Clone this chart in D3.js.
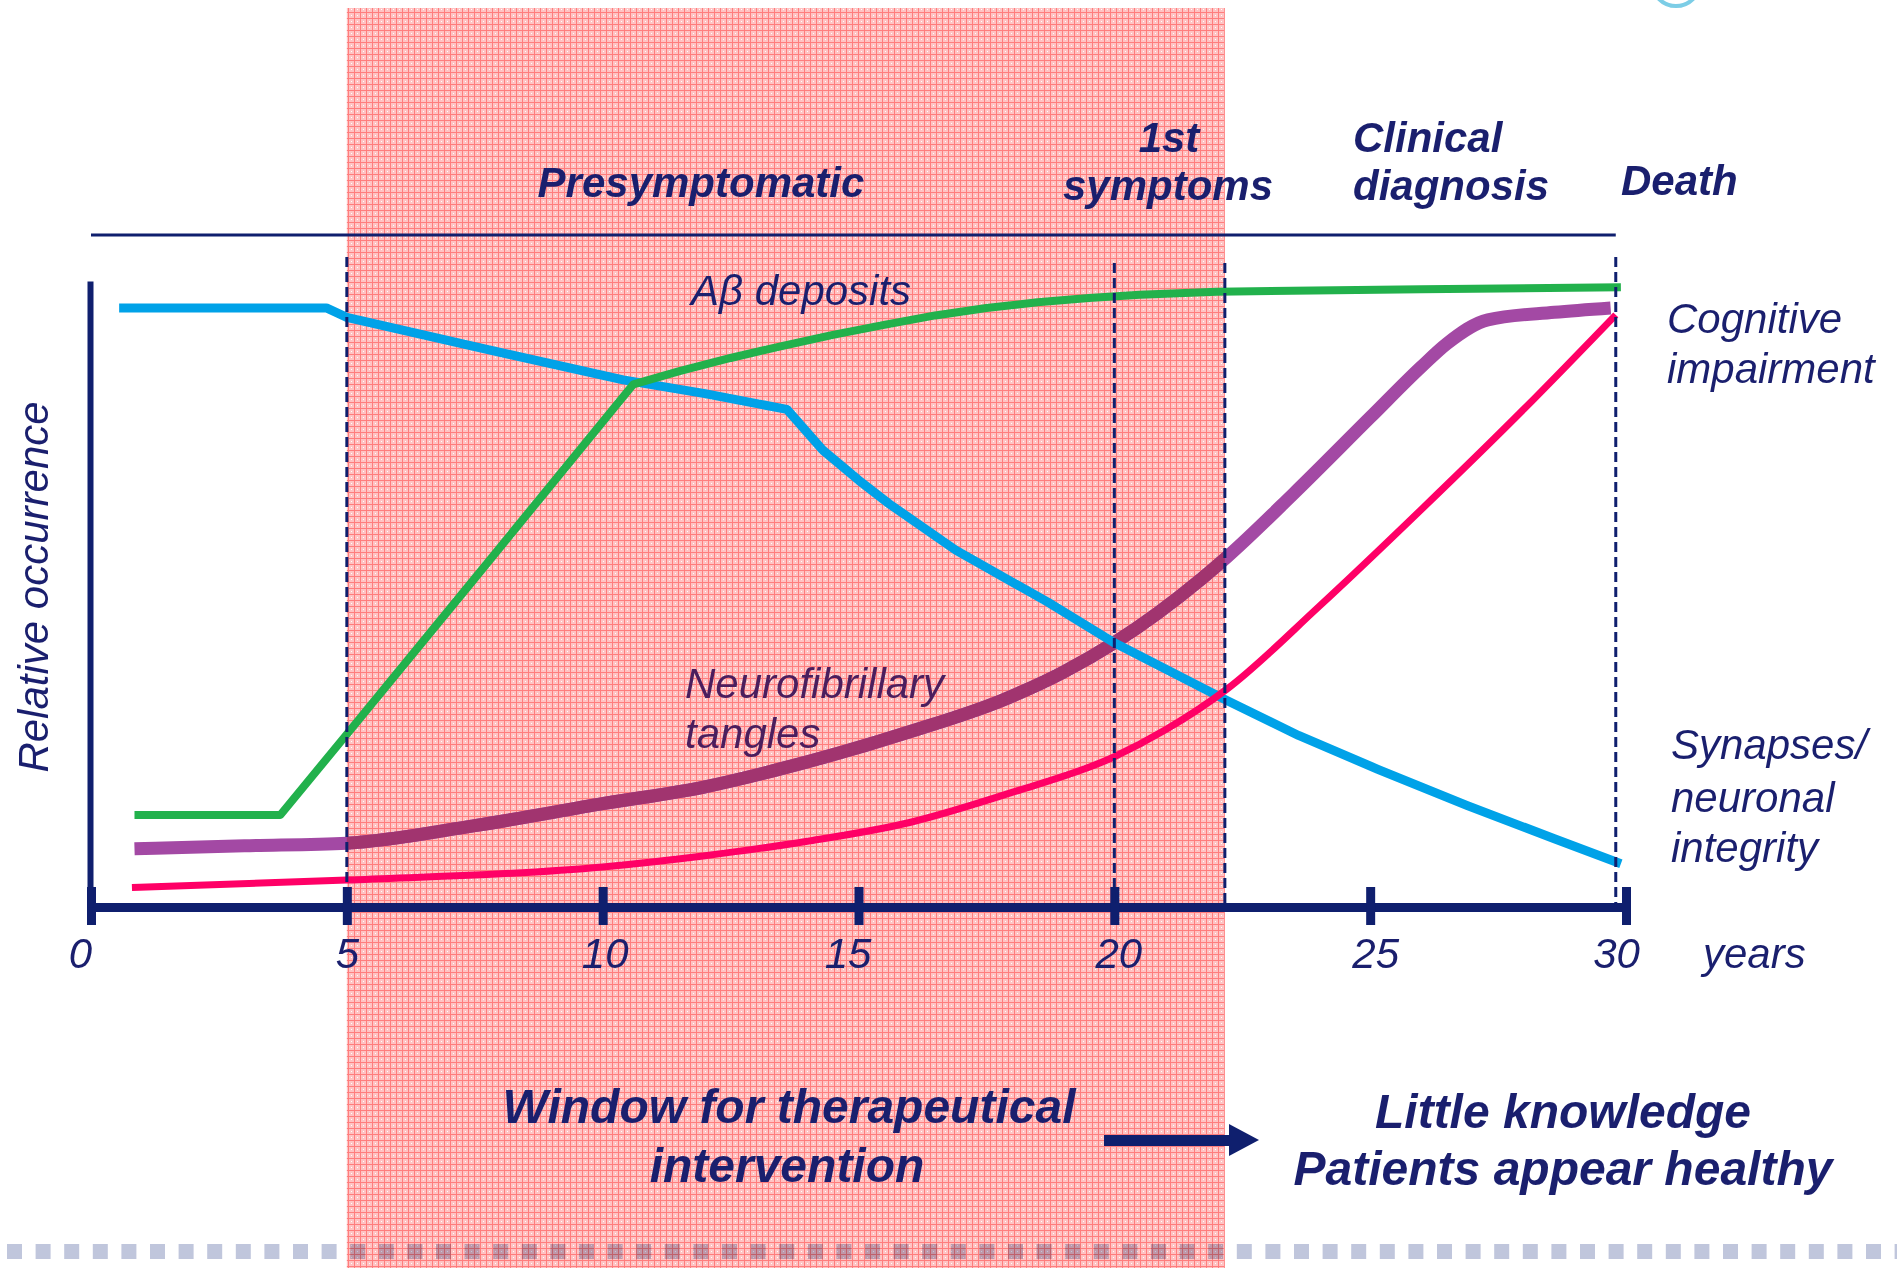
<!DOCTYPE html>
<html>
<head>
<meta charset="utf-8">
<script src="https://cdn.jsdelivr.net/npm/d3@7"></script>
<style>
  body { margin: 0; background: #fff; }
  svg { display: block; font-family: "Liberation Sans", Arial, sans-serif; }
</style>
</head>
<body>
<div id="chart"></div>
<script>

// x ticks (years) and their labels
let tickYears = [0, 5, 10, 15, 20, 25, 30];
let tickLabels = ["0", "5", "10", "15", "20", "25", "30"];

// milestones (years): window start, 1st symptoms, window end, death
let markerYears = [5, 20, 22.16, 29.8];
let windowYears = [5, 22.16];

// curves: [year, relative occurrence 0-100]
let synapses = [[0.55, 95.7], [4.6, 95.7], [5, 94.2], [7.5, 89.5], [10.4, 84.2], [12, 82], [13.6, 79.5],
  [14.3, 73], [15, 68.2], [15.6, 64.4], [16.9, 57], [18.7, 48.7], [20, 42.2], [22.2, 33], [23.6, 27.4],
  [25.15, 22], [26.9, 16.2], [28.6, 10.9], [29.9, 6.9]];
let abeta = [[0.85, 14.7], [3.7, 14.7], [5, 27.6], [7.5, 52.5], [10.6, 83.5], [11.5, 85.6], [12.5, 87.7],
  [13.5, 89.6], [14.5, 91.4], [15.5, 93], [16.5, 94.5], [17.5, 95.7], [18.5, 96.6], [19.5, 97.3],
  [20.5, 97.8], [22, 98.3], [26, 98.7], [29.9, 99]];
let tangles = [[0.85, 9.3], [3, 9.8], [5, 10.2], [7.5, 13], [10, 16.5], [12, 19.2], [13.4, 21.9],
  [16, 28], [17.8, 33], [19, 37.5], [20, 42.2], [21.7, 52.4], [22.2, 55.9], [23.5, 66],
  [25, 78.2], [26, 86.3], [26.5, 90], [27.3, 93.8], [28.6, 95], [29.7, 95.7]];
let cognitive = [[0.8, 3.1], [5, 4.3], [10, 6.4], [12, 8.2], [14, 10.5], [16, 13.5], [18, 18.3],
  [20, 24], [21, 28.3], [22.2, 34.8], [24, 48], [26, 63.5], [28, 79.5], [29.8, 94.6]];

let width = 1897, height = 1268;
let navy = "#1a1f6e";
let axisColor = "#0f1f6e";
let labelShift = [-11, 0, 2, -11, 4, 5, -10];

let svg = d3.select("#chart").append("svg")
    .attr("width", width)
    .attr("height", height);

let defs = svg.append("defs");
let pat = defs.append("pattern")
    .attr("id", "pinkgrid")
    .attr("width", 6).attr("height", 6)
    .attr("patternUnits", "userSpaceOnUse");
pat.append("rect").attr("width", 6).attr("height", 6).attr("fill", "#ffbebe");
pat.append("rect").attr("width", 6).attr("height", 1).attr("fill", "#ff7272");
pat.append("rect").attr("width", 1).attr("height", 6).attr("fill", "#ff7272");
pat.append("rect").attr("x", 3).attr("y", 3).attr("width", 1).attr("height", 1).attr("fill", "#fff");

let xScale = d3.scaleLinear().domain([0, 30]).range([91, 1626]);
let yScale = d3.scaleLinear().domain([0, 100]).range([907, 281]);

defs.append("clipPath").attr("id", "winclip")
  .append("rect")
    .attr("x", xScale(windowYears[0]))
    .attr("y", 0)
    .attr("width", xScale(windowYears[1]) - xScale(windowYears[0]))
    .attr("height", height);

// little logo remnant top right
svg.append("circle")
    .attr("cx", 1676).attr("cy", -18).attr("r", 24)
    .attr("fill", "none").attr("stroke", "#7ccde6").attr("stroke-width", 4);

// therapeutic window
svg.append("rect")
    .attr("x", xScale(windowYears[0]))
    .attr("y", 8)
    .attr("width", xScale(windowYears[1]) - xScale(windowYears[0]))
    .attr("height", height - 8)
    .attr("fill", "url(#pinkgrid)")
    .attr("opacity", 0.92);

// bottom dotted bar
let squares = d3.range(0, 67);
svg.append("g").selectAll("rect")
    .data(squares)
    .enter().append("rect")
    .attr("x", function(d) { return 7 + d * 28.6; })
    .attr("y", 1244)
    .attr("width", 15).attr("height", 15)
    .attr("fill", "#c0c6dc")
    .style("mix-blend-mode", "multiply");

// header separator
svg.append("line")
    .attr("x1", xScale(0)).attr("x2", xScale(markerYears[3]))
    .attr("y1", 235).attr("y2", 235)
    .attr("stroke", axisColor).attr("stroke-width", 3);

// header texts
function headText(txt, x, y, anchor) {
  svg.append("text")
    .attr("x", x).attr("y", y)
    .attr("text-anchor", anchor)
    .attr("font-size", 42).attr("font-weight", "bold").attr("font-style", "italic")
    .attr("fill", navy)
    .text(txt);
}
headText("Presymptomatic", 701, 197, "middle");
headText("1st", 1169, 152, "middle");
headText("symptoms", 1168, 200, "middle");
headText("Clinical", 1353, 152, "start");
headText("diagnosis", 1353, 200, "start");
headText("Death", 1621, 195, "start");

// axes
let xAxis = d3.axisBottom(xScale)
    .tickValues(tickYears)
    .tickSizeOuter(0)
    .tickFormat(function(d, i) { return tickLabels[i]; });

let xAxisGroup = svg.append("g")
    .attr("transform", "translate(0,907)")
    .call(xAxis);
xAxisGroup.select(".domain")
    .attr("stroke", axisColor).attr("stroke-width", 9).attr("stroke-linecap", "square");
xAxisGroup.selectAll(".tick line")
    .attr("y1", -20).attr("y2", 18)
    .attr("stroke", axisColor).attr("stroke-width", 9);
xAxisGroup.selectAll(".tick text")
    .attr("y", 61).attr("dy", 0)
    .attr("dx", function(d, i) { return labelShift[i]; })
    .attr("fill", navy)
    .attr("font-size", 42).attr("font-style", "italic")
    .attr("font-family", "Liberation Sans, Arial, sans-serif");

let yAxis = d3.axisLeft(yScale).tickValues([]).tickSizeOuter(0);
let yAxisGroup = svg.append("g")
    .attr("transform", "translate(90,0)")
    .call(yAxis);
yAxisGroup.select(".domain")
    .attr("stroke", axisColor).attr("stroke-width", 6);

// curves
let line = d3.line()
    .x(function(d) { return xScale(d[0]); })
    .y(function(d) { return yScale(d[1]); });
let smooth = d3.line()
    .x(function(d) { return xScale(d[0]); })
    .y(function(d) { return yScale(d[1]); })
    .curve(d3.curveMonotoneX);

svg.append("path").datum(tangles)
    .attr("d", smooth).attr("fill", "none")
    .attr("stroke", "#a349a4").attr("stroke-width", 13);
svg.append("path").datum(tangles)
    .attr("d", smooth).attr("fill", "none")
    .attr("clip-path", "url(#winclip)")
    .attr("stroke", "#a1346f").attr("stroke-width", 13);

svg.append("path").datum(synapses)
    .attr("d", line).attr("fill", "none")
    .attr("stroke", "#00a2e8").attr("stroke-width", 9)
    .attr("stroke-linejoin", "round");

svg.append("path").datum(abeta)
    .attr("d", line).attr("fill", "none")
    .attr("stroke", "#22b14c").attr("stroke-width", 8)
    .attr("stroke-linejoin", "round");

svg.append("path").datum(cognitive)
    .attr("d", smooth).attr("fill", "none")
    .attr("stroke", "#ff0066").attr("stroke-width", 7);

// dashed milestone lines
let dashTops = [257, 263, 263, 257];
svg.append("g").selectAll("line")
    .data(markerYears)
    .enter().append("line")
    .attr("x1", function(d) { return xScale(d); })
    .attr("x2", function(d) { return xScale(d); })
    .attr("y1", function(d, i) { return dashTops[i]; })
    .attr("y2", 905)
    .attr("stroke", axisColor).attr("stroke-width", 3)
    .attr("stroke-dasharray", "10,5");

// in-plot labels
function label(txt, x, y, color) {
  svg.append("text")
    .attr("x", x).attr("y", y)
    .attr("font-size", 42).attr("font-style", "italic")
    .attr("fill", color || navy)
    .text(txt);
}
label("A\u03b2 deposits", 691, 305);
label("Neurofibrillary", 685, 698, "#4b1e5e");
label("tangles", 685, 748, "#4b1e5e");
label("Cognitive", 1667, 333);
label("impairment", 1667, 383);
label("Synapses/", 1671, 759);
label("neuronal", 1671, 812);
label("integrity", 1671, 862);
label("years", 1703, 968);

svg.append("text")
    .attr("transform", "translate(48,587) rotate(-90)")
    .attr("text-anchor", "middle")
    .attr("font-size", 42).attr("font-style", "italic")
    .attr("fill", navy)
    .text("Relative occurrence");

// bottom texts
function bigText(txt, x, y) {
  svg.append("text")
    .attr("x", x).attr("y", y)
    .attr("text-anchor", "middle")
    .attr("font-size", 48).attr("font-weight", "bold").attr("font-style", "italic")
    .attr("fill", navy)
    .text(txt);
}
bigText("Window for therapeutical", 789, 1123);
bigText("intervention", 787, 1182);
bigText("Little knowledge", 1563, 1128);
bigText("Patients appear healthy", 1563, 1185);

// arrow
svg.append("path")
    .attr("d", "M1104,1135 H1229 V1124 L1259,1140 L1229,1156 V1146 H1104 Z")
    .attr("fill", axisColor);

</script>
</body>
</html>
